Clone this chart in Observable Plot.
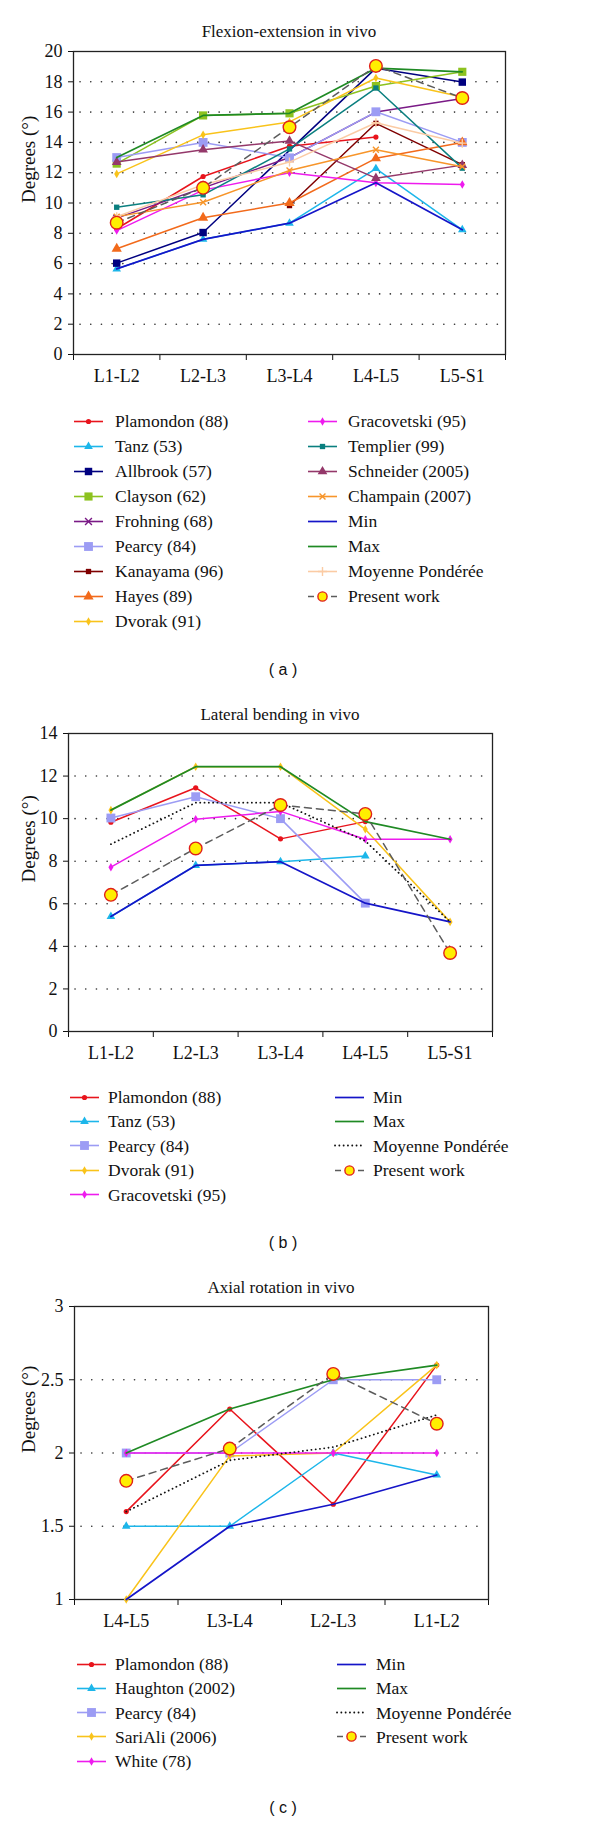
<!DOCTYPE html>
<html><head><meta charset="utf-8">
<script src="https://cdn.jsdelivr.net/npm/d3@7"></script>
<script src="https://cdn.jsdelivr.net/npm/@observablehq/plot@0.6"></script>
<style>
body{margin:0;background:#fff;}
#root{position:relative;width:600px;height:1824px;font-family:"Liberation Serif",serif;color:#111;overflow:hidden;}
.abs{position:absolute;}
.title{font-size:17px;transform:translate(-50%,-50%);white-space:nowrap;}
.plabel{font-family:"Liberation Sans",sans-serif;font-size:16px;transform:translate(-50%,-50%);white-space:pre;}
.leg{display:flex;align-items:center;font-size:17.5px;transform:translateY(-50%);white-space:nowrap;}
.leg svg{display:block;margin-right:11px;overflow:visible;}
svg.plot{position:absolute;left:0;overflow:visible;}
</style></head><body><div id="root"></div>
<script>
// ---------- Panel (a) : Flexion-extension in vivo ----------
const catsA = ["L1-L2","L2-L3","L3-L4","L4-L5","L5-S1"];
const yTicksA = [0,2,4,6,8,10,12,14,16,18,20];
const gridA = [2,4,6,8,10,12,14,16,18];
const plamondonA   = [8.3, 11.75, 13.75, 14.35, null];
const tanzA        = [5.65, 7.6, 8.67, 12.27, 8.23];
const allbrookA    = [6.03, 8.05, null, 18.9, 17.98];
const claysonA     = [12.6, 15.78, 15.92, 17.72, 18.66];
const frohningA    = [9.0, 11.0, 13.0, 16.0, 16.9];
const pearcyA      = [13.0, 14.0, 12.98, 16.02, 14.0];
const kanayamaA    = [null, null, 9.83, 15.26, 12.53];
const hayesA       = [6.98, 9.03, 10.0, 12.95, 14.0];
const dvorakA      = [11.92, 14.5, 15.35, 18.25, 17.0];
const gracovetskiA = [8.18, 10.85, 12.0, 11.33, 11.22];
const templierA    = [9.72, 10.54, 13.57, 17.59, 12.3];
const schneiderA   = [12.7, 13.52, 14.1, 11.64, 12.5];
const champainA    = [9.1, 10.05, 12.15, 13.52, 12.4];
const minA         = [5.65, 7.6, 8.67, 11.33, 8.23];
const maxA         = [13.0, 15.78, 15.92, 18.9, 18.66];
const moyenneA     = [9.1, 11.2, 12.7, 15.3, 13.95];
const presentA     = [8.7, 11.0, 15.0, 19.05, 16.93];

// ---------- Panel (b) : Lateral bending in vivo ----------
const catsB = ["L1-L2","L2-L3","L3-L4","L4-L5","L5-S1"];
const yTicksB = [0,2,4,6,8,10,12,14];
const gridB = [2,4,6,8,10,12];
const plamondonB   = [9.83, 11.45, 9.05, 9.86, null];
const tanzB        = [5.4, 7.8, 7.98, 8.25, null];
const pearcyB      = [10.03, 11.03, 10.0, 6.03, null];
const dvorakB      = [10.4, 12.44, 12.44, 9.5, 5.15];
const gracovetskiB = [7.72, 9.97, 10.34, 9.03, 9.03];
const minB         = [5.4, 7.8, 7.98, 6.03, 5.15];
const maxB         = [10.4, 12.44, 12.44, 9.86, 9.03];
const moyenneB     = [8.8, 10.75, 10.75, 8.95, 5.15];
const presentB     = [6.42, 8.6, 10.64, 10.22, 3.69];

// ---------- Panel (c) : Axial rotation in vivo ----------
const catsC = ["L4-L5","L3-L4","L2-L3","L1-L2"];
const yTicksC = [1,1.5,2,2.5,3];
const gridC = [1.5,2,2.5];
const plamondonC = [1.6, 2.3, 1.65, 2.6];
const haughtonC  = [1.5, 1.5, 2.0, 1.85];
const pearcyC    = [2.0, 2.0, 2.5, 2.5];
const sariAliC   = [1.0, 1.98, 2.0, 2.6];
const whiteC     = [2.0, 2.0, 2.0, 2.0];
const minC       = [1.0, 1.5, 1.65, 1.85];
const maxC       = [2.0, 2.3, 2.5, 2.6];
const moyenneC   = [1.6, 1.95, 2.04, 2.26];
const presentC   = [1.81, 2.03, 2.54, 2.2];

// ---------- styles ----------
const styles = {
  plamondon:   {color:"#e8141c", symbol:"circle", r:2.6},
  tanz:        {color:"#1cb6ea", symbol:"triangle", r:3.2},
  allbrook:    {color:"#000080", symbol:"square", r:4.2},
  clayson:     {color:"#8dc21f", symbol:"square", r:4.6},
  frohning:    {color:"#7a1a86", symbol:"times", r:3.2, stroked:true},
  pearcy:      {color:"#9c9cf4", symbol:"square", r:5},
  kanayama:    {color:"#7f0000", symbol:"square", r:3},
  hayes:       {color:"#f26a1b", symbol:"triangle", r:3.8},
  dvorak:      {color:"#f9c31a", symbol:"diamond", r:2.6},
  gracovetski: {color:"#ee1bee", symbol:"diamond", r:2.6},
  templier:    {color:"#0a7f7f", symbol:"square", r:3},
  schneider:   {color:"#94386a", symbol:"triangle", r:3.6},
  champain:    {color:"#f7952a", symbol:"times", r:2.8, stroked:true},
  min:         {color:"#1515c8", width:1.7},
  max:         {color:"#1f8a24", width:1.7},
  moyenneA:    {color:"#fbcba4", symbol:"plus", r:3, stroked:true},
  moyenneD:    {color:"#111", dash:"0.1,4.2", cap:"round", width:1.8},
  present:     {color:"#5c5c5c", dash:"7,5", symbol:"circle", r:6.3, fill:"#ffee00", mstroke:"#e0201a", legR:4.6}
};
const symMap = {circle:d3.symbolCircle, triangle:d3.symbolTriangle, square:d3.symbolSquare,
  diamond:d3.symbolDiamond, times:(d3.symbolTimes||d3.symbolX), plus:d3.symbolPlus};

const panels = [
  {
    title:"Flexion-extension in vivo", titleY:32, label:"( a )", labelY:670,
    svgTop:40, svgBottom:400, left:73, right:505, top:51, bottom:354, ylabDx:-45,
    cats:catsA, yDomain:[0,20], yTicks:yTicksA, grid:gridA,
    legY0:421, legDy:25, legL:[74,115], legR:[308,348],
    left_items:[["Plamondon (88)",plamondonA,"plamondon"],["Tanz (53)",tanzA,"tanz"],["Allbrook (57)",allbrookA,"allbrook"],
      ["Clayson (62)",claysonA,"clayson"],["Frohning (68)",frohningA,"frohning"],["Pearcy (84)",pearcyA,"pearcy"],
      ["Kanayama (96)",kanayamaA,"kanayama"],["Hayes (89)",hayesA,"hayes"],["Dvorak (91)",dvorakA,"dvorak"]],
    right_items:[["Gracovetski (95)",gracovetskiA,"gracovetski"],["Templier (99)",templierA,"templier"],
      ["Schneider (2005)",schneiderA,"schneider"],["Champain (2007)",champainA,"champain"],["Min",minA,"min"],
      ["Max",maxA,"max"],["Moyenne Pondérée",moyenneA,"moyenneA"],["Present work",presentA,"present"]]
  },
  {
    title:"Lateral bending in vivo", titleY:715, label:"( b )", labelY:1243,
    svgTop:725, svgBottom:1075, left:68, right:492, top:733, bottom:1031, ylabDx:-40,
    cats:catsB, yDomain:[0,14], yTicks:yTicksB, grid:gridB,
    legY0:1097, legDy:24.4, legL:[70,108], legR:[335,373],
    left_items:[["Plamondon (88)",plamondonB,"plamondon"],["Tanz (53)",tanzB,"tanz"],["Pearcy (84)",pearcyB,"pearcy"],
      ["Dvorak (91)",dvorakB,"dvorak"],["Gracovetski (95)",gracovetskiB,"gracovetski"]],
    right_items:[["Min",minB,"min"],["Max",maxB,"max"],["Moyenne Pondérée",moyenneB,"moyenneD"],["Present work",presentB,"present"]]
  },
  {
    title:"Axial rotation in vivo", titleY:1288, label:"( c )", labelY:1808,
    svgTop:1296, svgBottom:1645, left:74, right:488, top:1306, bottom:1599, ylabDx:-46,
    cats:catsC, yDomain:[1,3], yTicks:yTicksC, grid:gridC,
    legY0:1664, legDy:24.3, legL:[77,115], legR:[337,376],
    left_items:[["Plamondon (88)",plamondonC,"plamondon"],["Haughton (2002)",haughtonC,"tanz"],["Pearcy (84)",pearcyC,"pearcy"],
      ["SariAli (2006)",sariAliC,"dvorak"],["White (78)",whiteC,"gracovetski"]],
    right_items:[["Min",minC,"min"],["Max",maxC,"max"],["Moyenne Pondérée",moyenneC,"moyenneD"],["Present work",presentC,"present"]]
  }
];

const root = document.getElementById("root");

function swatch(st) {
  const w = 29, h = 14;
  const svg = d3.create("svg").attr("width", w).attr("height", h);
  const line = svg.append("line").attr("x1",0).attr("x2",w).attr("y1",h/2).attr("y2",h/2)
    .attr("stroke", st.color).attr("stroke-width", st.width ?? 1.6);
  if (st === styles.present) line.attr("stroke-dasharray","6,17");
  else if (st.dash) line.attr("stroke-dasharray", st.dash).attr("stroke-linecap", st.cap || "butt");
  if (st.symbol) {
    const r = st.legR ?? st.r;
    const p = svg.append("path").attr("transform",`translate(${w/2},${h/2})`)
      .attr("d", d3.symbol(symMap[st.symbol], Math.PI*r*r)());
    if (st.stroked) p.attr("fill","none").attr("stroke",st.color).attr("stroke-width",1.4);
    else p.attr("fill", st.fill ?? st.color).attr("stroke", st.mstroke ?? "none").attr("stroke-width",1.4);
  }
  return svg.node();
}

for (const cfg of panels) {
  const n = cfg.cats.length;
  const svgH = cfg.svgBottom - cfg.svgTop;
  const idx = d3.range(n);
  const bounds = d3.range(n + 1).map(i => i - 0.5);
  const marks = [
    Plot.gridY({ticks: cfg.grid, stroke:"#333", strokeOpacity:1, strokeWidth:1.6,
      strokeDasharray:"0.1,10.6", strokeLinecap:"round", insetLeft:7, insetRight:7}),
    Plot.axisY({ticks: cfg.yTicks, tickSize:5, tickPadding:6, tickFormat: d => String(d), label:null}),
    Plot.axisX({ticks: bounds, tickSize:6, tickFormat: () => "", label:null}),
    Plot.axisX({ticks: idx, tickSize:0, tickPadding:15, tickFormat: i => cfg.cats[i], label:null}),
    Plot.frame({stroke:"#222", strokeWidth:1.3}),
    Plot.text(["Degrees (°)"], {text: d => d, frameAnchor:"left", dx: cfg.ylabDx, rotate:-90, fontSize:19})
  ];
  for (const [name, values, key] of [...cfg.left_items, ...cfg.right_items]) {
    const st = styles[key];
    const rows = values.map((v, i) => ({i, v})).filter(d => d.v != null);
    marks.push(Plot.line(rows, {x:"i", y:"v", stroke: st.color, strokeWidth: st.width ?? 1.5,
      strokeDasharray: st.dash, strokeLinecap: st.cap}));
    if (st.symbol) {
      marks.push(Plot.dot(rows, {x:"i", y:"v", symbol: st.symbol, r: st.r,
        fill: st.stroked ? "none" : (st.fill ?? st.color),
        stroke: st.stroked ? st.color : (st.mstroke ?? "none"), strokeWidth: 1.4}));
    }
  }
  const chart = Plot.plot({
    width: 600, height: svgH,
    marginLeft: cfg.left, marginRight: 600 - cfg.right,
    marginTop: cfg.top - cfg.svgTop, marginBottom: cfg.svgBottom - cfg.bottom,
    style: {fontFamily:"Liberation Serif, serif", fontSize:"18px", color:"#111", background:"transparent", overflow:"visible"},
    x: {type:"linear", domain:[-0.5, n - 0.5]},
    y: {domain: cfg.yDomain},
    marks
  });
  chart.classList.add("plot");
  chart.style.top = cfg.svgTop + "px";
  root.appendChild(chart);

  const t = document.createElement("div");
  t.className = "abs title"; t.textContent = cfg.title;
  t.style.left = ((cfg.left + cfg.right) / 2) + "px"; t.style.top = cfg.titleY + "px";
  root.appendChild(t);

  const addLeg = (items, col) => items.forEach(([name, , key], k) => {
    const d = document.createElement("div");
    d.className = "abs leg";
    d.style.left = col[0] + "px"; d.style.top = (cfg.legY0 + k * cfg.legDy) + "px";
    const sw = swatch(styles[key]);
    sw.style.marginRight = (col[1] - col[0] - 29) + "px";
    d.appendChild(sw);
    const s = document.createElement("span"); s.textContent = name; d.appendChild(s);
    root.appendChild(d);
  });
  addLeg(cfg.left_items, cfg.legL);
  addLeg(cfg.right_items, cfg.legR);

  const lb = document.createElement("div");
  lb.className = "abs plabel"; lb.textContent = cfg.label;
  lb.style.left = "283px"; lb.style.top = cfg.labelY + "px";
  root.appendChild(lb);
}
</script></body></html>
